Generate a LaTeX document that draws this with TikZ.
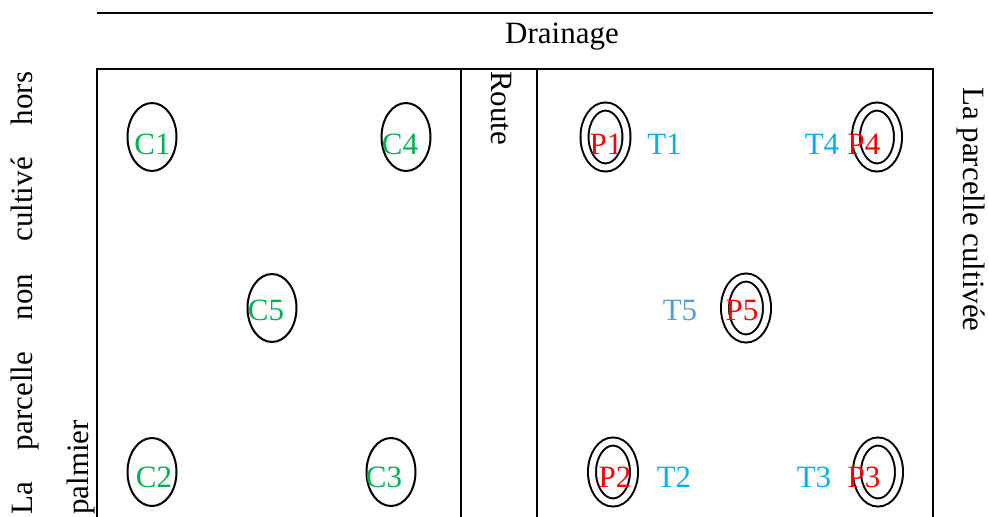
\documentclass[tikz,border=0pt]{standalone}
\usepackage{fontspec}
\setmainfont{Liberation Serif}
\usepackage{tikz}
\usetikzlibrary{shapes}
\definecolor{vert}{HTML}{00B050}
\definecolor{rouge}{HTML}{FF0000}
\definecolor{bleu}{HTML}{00B0F0}
\definecolor{bleufonce}{HTML}{5B9BD5}

\begin{document}
\begin{tikzpicture}[x=1pt,y=-1pt]
	\tikzset{every node/.style={inner sep=0pt,font=\fontsize{31}{37}\selectfont},
		temoin/.style={ellipse,draw,line width=2pt,minimum width=49pt,minimum height=68pt},
		traite/.style={ellipse,draw,line width=2pt,double,double distance=6pt,minimum width=42pt,minimum height=61pt},
		ctxt/.style={anchor=base,text=vert},
		ptxt/.style={anchor=base,text=rouge},
		ttxt/.style={anchor=base,text=bleu}}
	\useasboundingbox (0,0) rectangle (989,517);
	\draw[line width=2pt] (97,13) -- (933,13);
	\draw[line width=2pt] (97,517) -- (97,69) -- (933,69) -- (933,517);
	\draw[line width=2pt] (461,69) -- (461,517);
	\draw[line width=2pt] (537,69) -- (537,517);
	\node[anchor=base] (drain) at (562,43.5) {Drainage};
	\node[anchor=base west,rotate=-90] (route) at (491,71) {Route};
	\node[anchor=base west,rotate=-90] (cultivee) at (963,87) {La parcelle cultivée};
	\node[anchor=base west,rotate=90,text width=443pt,align=left] (noncult) at (32.5,515) {La\hfill parcelle\hfill non\hfill cultivé\hfill hors};
	\node[anchor=base west,rotate=90] (palmier) at (88,515) {palmier};
	\node[temoin] (c1) at (152,137) {};
	\node[temoin] (c4) at (406,137) {};
	\node[temoin] (c5) at (272,308) {};
	\node[temoin] (c2) at (152,472) {};
	\node[temoin] (c3) at (391,472) {};
	\node[ctxt] (c1t) at (152.5,154) {C1};
	\node[ctxt] (c4t) at (400,154) {C4};
	\node[ctxt] (c5t) at (266,320) {C5};
	\node[ctxt] (c2t) at (154,487) {C2};
	\node[ctxt] (c3t) at (384,487) {C3};
	\node[traite] (p1) at (605.5,137) {};
	\node[traite] (p4) at (877,137) {};
	\node[traite] (p5) at (746,308) {};
	\node[traite] (p2) at (613,472) {};
	\node[traite] (p3) at (878,472) {};
	\node[ptxt] (p1t) at (606,154) {P1};
	\node[ptxt] (p4t) at (864,154) {P4};
	\node[ptxt] (p5t) at (742,320) {P5};
	\node[ptxt] (p2t) at (615,487) {P2};
	\node[ptxt] (p3t) at (864,487) {P3};
	\node[ttxt] (t1) at (664.5,154) {T1};
	\node[ttxt] (t4) at (822,154) {T4};
	\node[ttxt,text=bleufonce] (t5) at (680,320) {T5};
	\node[ttxt] (t2) at (674,487) {T2};
	\node[ttxt] (t3) at (814,487) {T3};
\end{tikzpicture}
\end{document}
